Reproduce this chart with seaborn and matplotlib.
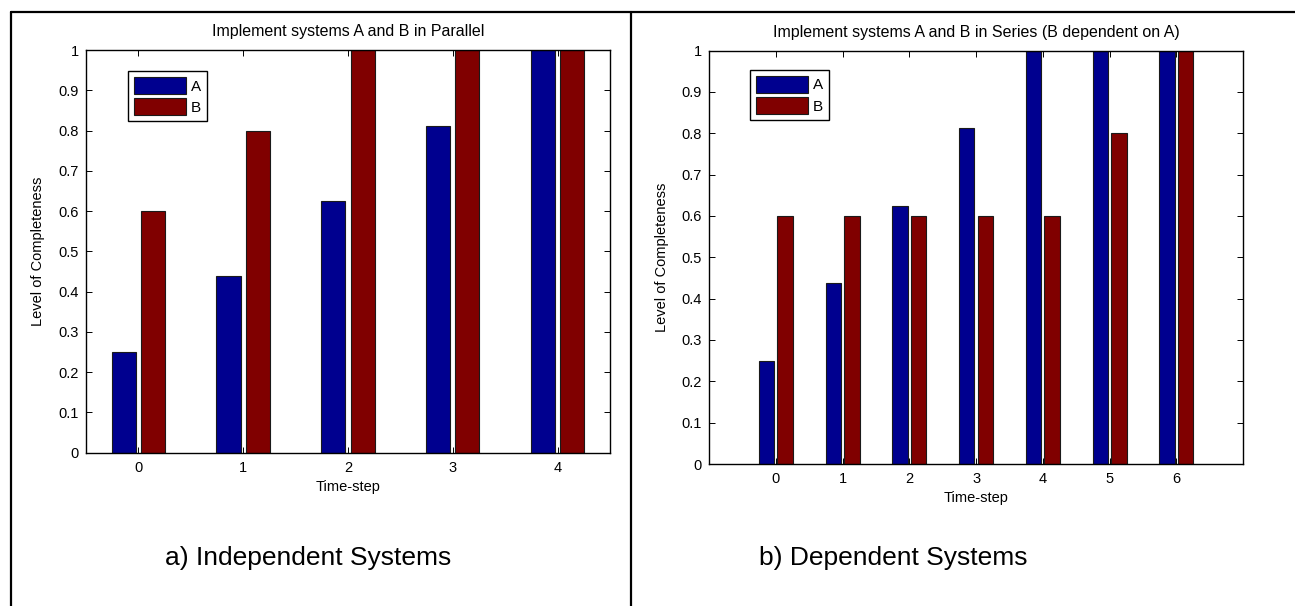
import numpy as np
import pandas as pd
import seaborn as sns
import matplotlib.pyplot as plt
from matplotlib.lines import Line2D

# Data
steps_par = [0, 1, 2, 3, 4]
a_par = [0.25, 0.4375, 0.625, 0.8125, 1.0]
b_par = [0.6, 0.8, 1.0, 1.0, 1.0]

steps_ser = [0, 1, 2, 3, 4, 5, 6]
a_ser = [0.25, 0.4375, 0.625, 0.8125, 1.0, 1.0, 1.0]
b_ser = [0.6, 0.6, 0.6, 0.6, 0.6, 0.8, 1.0]

ytick_vals = [0, 0.1, 0.2, 0.3, 0.4, 0.5, 0.6, 0.7, 0.8, 0.9, 1.0]
ytick_labels = ['0', '0.1', '0.2', '0.3', '0.4', '0.5', '0.6', '0.7', '0.8', '0.9', '1']

sns.set_style('ticks')
plt.rcParams['font.family'] = ['Liberation Sans', 'DejaVu Sans']
plt.rcParams['text.color'] = 'black'
plt.rcParams['axes.labelcolor'] = 'black'

colors = {'A': '#00008F', 'B': '#800000'}


def long_df(steps, a, b):
    return pd.DataFrame({
        'Time-step': steps + steps,
        'value': a + b,
        'system': ['A'] * len(steps) + ['B'] * len(steps),
    })


def draw(ax, df, title, xlim, legend_anchor, ylab_x, xlab_y):
    sns.barplot(data=df, x='Time-step', y='value', hue='system', palette=colors,
                width=0.56, gap=0.18, edgecolor='#1a1a1a', linewidth=0.8,
                saturation=1, ax=ax)
    ax.set_xlim(*xlim)
    ax.set_ylim(0, 1)
    ax.set_yticks(ytick_vals)
    ax.set_yticklabels(ytick_labels)
    ax.tick_params(direction='in', length=4, width=0.7, top=True, right=True,
                   labelsize=10.5, colors='black', pad=5)
    ax.tick_params(axis='x', pad=6)
    for sp in ax.spines.values():
        sp.set_visible(True)
        sp.set_color('black')
        sp.set_linewidth(1.0)
    ax.set_title(title, fontsize=11.5, pad=10, color='black')
    ax.set_xlabel('Time-step', fontsize=10.5)
    ax.set_ylabel('Level of Completeness', fontsize=10.5)
    ax.xaxis.set_label_coords(0.5, xlab_y)
    ax.xaxis.label.set_va('center')
    ax.yaxis.set_label_coords(ylab_x, 0.5)
    ax.yaxis.label.set_va('center')
    handles, labels = ax.get_legend_handles_labels()
    ax.legend(handles, labels, loc='upper left', bbox_to_anchor=legend_anchor,
              fancybox=False, edgecolor='black', framealpha=1, fontsize=11,
              handlelength=3.4, handleheight=1.35, handletextpad=0.35,
              borderpad=0.38, labelspacing=0.28, borderaxespad=0,
              labelcolor='black')
    ax.get_legend().get_frame().set_linewidth(1.0)


fig = plt.figure(figsize=(12.95, 6.06), dpi=100)
ax1 = fig.add_axes([0.0664, 0.2533, 0.4046, 0.664])
ax2 = fig.add_axes([0.5475, 0.2343, 0.4124, 0.6823])

draw(ax1, long_df(steps_par, a_par, b_par), 'Implement systems A and B in Parallel',
     (-0.5, 4.5), (0.08, 0.948), -0.092, -0.086)
draw(ax2, long_df(steps_ser, a_ser, b_ser), 'Implement systems A and B in Series (B dependent on A)',
     (-1, 7), (0.077, 0.953), -0.088, -0.082)

# captions under each panel
fig.text(308 / 1295, 1 - 558 / 606, 'a) Independent Systems', ha='center', va='center', fontsize=19)
fig.text(893 / 1295, 1 - 558 / 606, 'b) Dependent Systems', ha='center', va='center', fontsize=19)

# surrounding frame lines (table borders)
fx_left, fy_top, fx_div = 11 / 1295, 1 - 12 / 606, 631 / 1295
fig.add_artist(Line2D([fx_left, fx_left], [0, fy_top], color='black', lw=1.6))
fig.add_artist(Line2D([fx_left, 1], [fy_top, fy_top], color='black', lw=1.6))
fig.add_artist(Line2D([fx_div, fx_div], [0, fy_top], color='black', lw=1.6))

fig.savefig('out.png', dpi=100, facecolor='white')
